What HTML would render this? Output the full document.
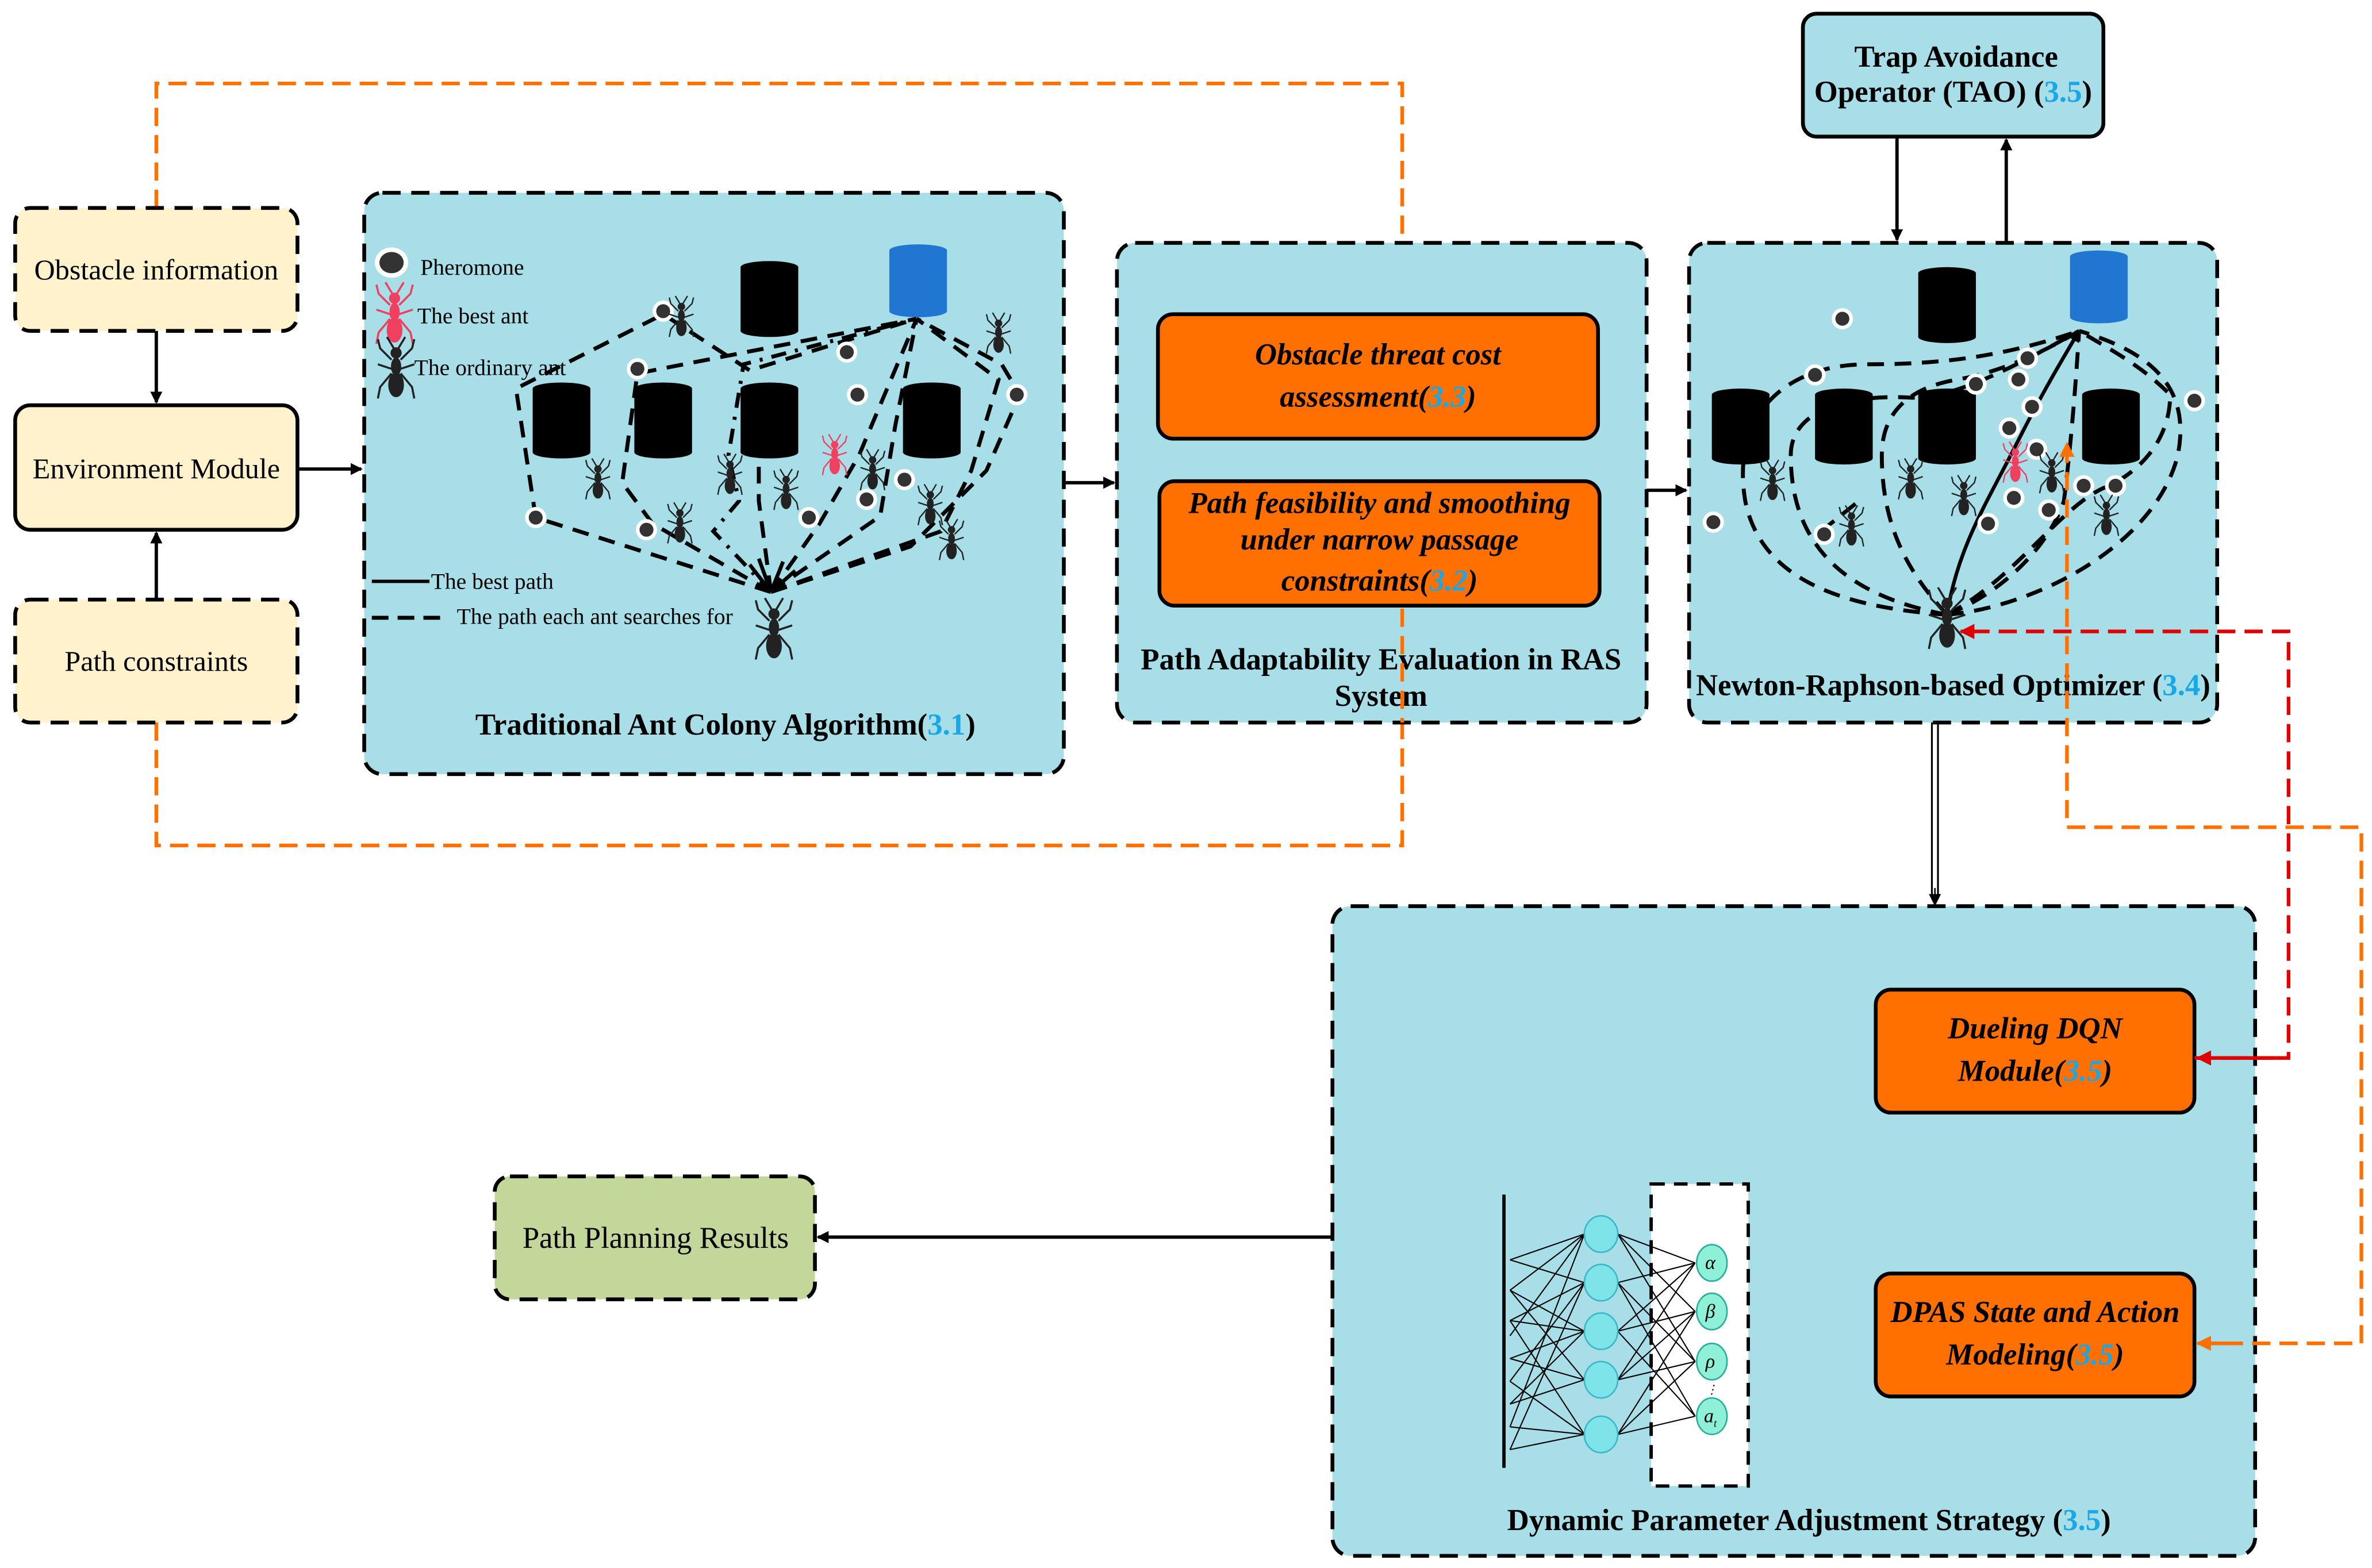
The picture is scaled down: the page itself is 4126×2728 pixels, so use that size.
<!DOCTYPE html>
<html><head><meta charset="utf-8"><style>html,body{margin:0;padding:0;background:#fff}svg{display:block}</style></head>
<body>
<svg xmlns="http://www.w3.org/2000/svg" width="4126" height="2728" viewBox="0 0 1563 1033" preserveAspectRatio="none" font-family="Liberation Serif, serif">
<defs>
<marker id="ab" markerWidth="8" markerHeight="8" refX="7" refY="4" orient="auto" markerUnits="userSpaceOnUse"><path d="M0,0 L8,4 L0,8 z" fill="#000"/></marker>
<marker id="ao" markerWidth="10" markerHeight="10" refX="9" refY="5" orient="auto" markerUnits="userSpaceOnUse"><path d="M0,0 L10,5 L0,10 z" fill="#FF7000"/></marker>
<marker id="ar" markerWidth="10" markerHeight="10" refX="9" refY="5" orient="auto" markerUnits="userSpaceOnUse"><path d="M0,0 L10,5 L0,10 z" fill="#E00000"/></marker>
<g id="ant" stroke="#222" stroke-width="0.9" fill="none">
<path d="M-2,-4 L-7,-9 L-8,-13 M2,-4 L7,-9 L8,-13 M-2,0 L-8,-2 M2,0 L8,-2 M-2,2 L-7,8 L-8,13 M2,2 L7,8 L8,13 M-1,-9 L-4,-14 M1,-9 L4,-14"/>
<ellipse cx="0" cy="-7" rx="2" ry="2" fill="#222"/><ellipse cx="0" cy="-1" rx="1.8" ry="3.5" fill="#222"/><ellipse cx="0" cy="7" rx="3" ry="5" fill="#222"/>
</g>
<g id="antr" stroke="#F04060" stroke-width="0.9" fill="none">
<path d="M-2,-4 L-7,-9 L-8,-13 M2,-4 L7,-9 L8,-13 M-2,0 L-8,-2 M2,0 L8,-2 M-2,2 L-7,8 L-8,13 M2,2 L7,8 L8,13 M-1,-9 L-4,-14 M1,-9 L4,-14"/>
<ellipse cx="0" cy="-7" rx="2" ry="2" fill="#F04060"/><ellipse cx="0" cy="-1" rx="1.8" ry="3.5" fill="#F04060"/><ellipse cx="0" cy="7" rx="3" ry="5" fill="#F04060"/>
</g>
<g id="dot"><circle r="7" fill="#fff"/><circle r="4.6" fill="#333"/></g>
<g id="cyl"><rect x="0" y="4" width="38" height="42" fill="#000"/><ellipse cx="19" cy="4" rx="19" ry="4" fill="#000"/><ellipse cx="19" cy="46" rx="19" ry="4" fill="#000"/></g>
<g id="cylb"><rect x="0" y="4" width="38" height="40" fill="#2176D2"/><ellipse cx="19" cy="4" rx="19" ry="4" fill="#2176D2"/><ellipse cx="19" cy="44" rx="19" ry="4" fill="#2176D2"/></g>
</defs>

<g fill="none" stroke="#FF7000" stroke-width="2.4" stroke-dasharray="12 6">
<path d="M103,137 L103,55 L924,55 L924,203" marker-end="url(#ao)"/>
<path d="M103,476 L103,557 L924,557 L924,401" marker-end="url(#ao)"/>
</g>

<rect x="10" y="137" width="186" height="81" rx="10" fill="#FFF2CC" stroke="#000" stroke-width="2.5" stroke-dasharray="12 7"/>
<text x="103" y="184" font-size="19" text-anchor="middle">Obstacle information</text>
<rect x="10" y="267" width="186" height="82" rx="10" fill="#FFF2CC" stroke="#000" stroke-width="2.5"/>
<text x="103" y="315" font-size="19" text-anchor="middle">Environment Module</text>
<rect x="10" y="395" width="186" height="81" rx="10" fill="#FFF2CC" stroke="#000" stroke-width="2.5" stroke-dasharray="12 7"/>
<text x="103" y="442" font-size="19" text-anchor="middle">Path constraints</text>
<g stroke="#000" stroke-width="2.2" fill="none">
<path d="M103,218 L103,265" marker-end="url(#ab)"/>
<path d="M103,395 L103,351" marker-end="url(#ab)"/>
<path d="M196,309 L238,309" marker-end="url(#ab)"/>
<path d="M701,318 L734,318" marker-end="url(#ab)"/>
<path d="M1085,323 L1111,323" marker-end="url(#ab)"/>
<path d="M1250,90 L1250,158" marker-end="url(#ab)"/>
<path d="M1322,160 L1322,92" marker-end="url(#ab)"/>
<path d="M878,815 L539,815" marker-end="url(#ab)"/>
<path d="M1236,881 L1154,881" marker-end="url(#ab)"/>
</g>
<path d="M1273,476 L1273,590 M1277,476 L1277,590" stroke="#000" stroke-width="1.2"/>
<path d="M1275,585 L1275,596" stroke="#000" stroke-width="1" marker-end="url(#ab)"/>

<rect x="240" y="127" width="461" height="383" rx="12" fill="#A8DEE8" stroke="#000" stroke-width="2.5" stroke-dasharray="12 7"/>
<use href="#cyl" x="488" y="172"/><use href="#cyl" x="351" y="252"/><use href="#cyl" x="418" y="252"/><use href="#cyl" x="488" y="252"/><use href="#cyl" x="595" y="252"/>
<use href="#cylb" x="586" y="161"/>
<g fill="none" stroke="#000" stroke-width="2.6" stroke-dasharray="11 7">
<path d="M508,390 L353,341 L340,256 L437,207 L494,244 L604,210"/>
<path d="M508,390 L430,345 L410,318 L420,246 L604,210"/>
<path d="M508,390 L470,350 L487,330 L480,300 L490,240 L604,210" stroke-dasharray="10 6 2 6"/>
<path d="M508,390 L500,330 L500,262"/>
<path d="M508,390 L540,345 L566,300 L604,210"/>
<path d="M508,390 L580,340 L590,280 L604,210"/>
<path d="M508,390 L600,360 L650,310 L672,260 L660,240 L604,210"/>
<path d="M508,390 L620,350 L640,310 L658,250 L604,210"/>
</g>
<g stroke="#000" stroke-width="2.5"><path d="M508,390 L494,372 M508,390 L500,368 M508,390 L516,370 M508,390 L524,376"/></g>
<use href="#dot" x="437" y="205"/><use href="#dot" x="420" y="243"/><use href="#dot" x="558" y="232"/><use href="#dot" x="565" y="260"/><use href="#dot" x="670" y="260"/><use href="#dot" x="596" y="316"/><use href="#dot" x="571" y="329"/><use href="#dot" x="533" y="341"/><use href="#dot" x="426" y="349"/><use href="#dot" x="353" y="341"/>
<use href="#ant" x="449" y="209"/><use href="#ant" x="658" y="220"/><use href="#ant" x="394" y="316"/><use href="#ant" x="448" y="345"/><use href="#ant" x="481" y="313"/><use href="#ant" x="518" y="323"/><use href="#ant" x="575" y="310"/><use href="#antr" x="550" y="300"/><use href="#ant" x="613" y="333"/><use href="#ant" x="627" y="356"/>
<use href="#ant" x="510" y="415" transform="translate(-255,-207.5) scale(1.5)"/>
<ellipse cx="258" cy="173" rx="11" ry="10" fill="#fff"/><ellipse cx="258" cy="173" rx="8" ry="7" fill="#333"/>
<text x="277" y="181" font-size="15">Pheromone</text>
<use href="#antr" x="260" y="207" transform="translate(-130,-103.5) scale(1.5)"/>
<text x="275" y="213" font-size="15">The best ant</text>
<use href="#ant" x="261" y="243" transform="translate(-130.5,-121.5) scale(1.5)"/>
<text x="273" y="247" font-size="15">The ordinary ant</text>
<path d="M245,383 L283,383" stroke="#000" stroke-width="2.2"/>
<text x="284" y="388" font-size="15">The best path</text>
<path d="M245,407 L296,407" stroke="#000" stroke-width="2.6" stroke-dasharray="11 6"/>
<text x="301" y="411" font-size="15">The path each ant searches for</text>
<text x="478" y="484" font-size="20" font-weight="bold" text-anchor="middle">Traditional Ant Colony Algorithm(<tspan fill="#1AA7E8">3.1</tspan>)</text>

<rect x="736" y="160" width="349" height="316" rx="12" fill="#A8DEE8" stroke="#000" stroke-width="2.5" stroke-dasharray="12 7"/>
<rect x="763" y="207" width="290" height="82" rx="10" fill="#FF7000" stroke="#000" stroke-width="2.5"/>
<text x="908" y="240" font-size="20" font-weight="bold" font-style="italic" text-anchor="middle">Obstacle threat cost</text>
<text x="908" y="268" font-size="20" font-weight="bold" font-style="italic" text-anchor="middle">assessment(<tspan fill="#1AA7E8">3.3</tspan>)</text>
<rect x="764" y="317" width="290" height="82" rx="10" fill="#FF7000" stroke="#000" stroke-width="2.5"/>
<text x="909" y="338" font-size="20" font-weight="bold" font-style="italic" text-anchor="middle">Path feasibility and smoothing</text>
<text x="909" y="362" font-size="20" font-weight="bold" font-style="italic" text-anchor="middle">under narrow passage</text>
<text x="909" y="389" font-size="20" font-weight="bold" font-style="italic" text-anchor="middle">constraints(<tspan fill="#1AA7E8">3.2</tspan>)</text>
<text x="910" y="441" font-size="20" font-weight="bold" text-anchor="middle">Path Adaptability Evaluation in RAS</text>
<text x="910" y="465" font-size="20" font-weight="bold" text-anchor="middle">System</text>
<path d="M924,401 L924,476" stroke="#FF7000" stroke-width="2.4" stroke-dasharray="12 6"/>

<rect x="1188" y="9" width="198" height="81" rx="9" fill="#A8DEE8" stroke="#000" stroke-width="2.5"/>
<text x="1289" y="44" font-size="20" font-weight="bold" text-anchor="middle">Trap Avoidance</text>
<text x="1287" y="67" font-size="20" font-weight="bold" text-anchor="middle">Operator (TAO) (<tspan fill="#1AA7E8">3.5</tspan>)</text>

<rect x="1113" y="160" width="348" height="316" rx="12" fill="#A8DEE8" stroke="#000" stroke-width="2.5" stroke-dasharray="12 7"/>
<use href="#cyl" x="1264" y="176"/><use href="#cyl" x="1128" y="256"/><use href="#cyl" x="1196" y="256"/><use href="#cyl" x="1264" y="256"/><use href="#cyl" x="1372" y="256"/>
<use href="#cylb" x="1364" y="165"/>
<g fill="none" stroke="#000" stroke-width="2.6" stroke-dasharray="11 7">
<path d="M1283,405 C1210,400 1160,380 1150,330 C1140,270 1180,240 1230,240 C1280,240 1320,235 1370,218"/>
<path d="M1283,405 C1230,395 1180,370 1180,300 C1180,265 1230,260 1260,262 C1290,262 1330,240 1370,218"/>
<path d="M1283,405 C1260,380 1240,350 1240,300 C1240,270 1260,255 1290,250 C1320,245 1350,230 1370,218"/>
<path d="M1283,405 C1320,390 1350,360 1360,330 C1365,290 1368,250 1370,218"/>
<path d="M1283,405 C1340,400 1420,360 1435,300 C1445,250 1410,230 1370,218"/>
<path d="M1283,405 C1330,380 1360,330 1390,320 C1410,310 1430,290 1430,260 C1410,240 1390,230 1370,218"/>
<path d="M1200,350 L1225,330"/>
</g>
<path d="M1283,405 C1290,360 1310,330 1330,290 C1345,260 1360,235 1370,218" fill="none" stroke="#000" stroke-width="2.4" marker-end="url(#ab)"/>
<use href="#dot" x="1214" y="210"/><use href="#dot" x="1196" y="247"/><use href="#dot" x="1302" y="253"/><use href="#dot" x="1330" y="250"/><use href="#dot" x="1336" y="236"/><use href="#dot" x="1324" y="282"/><use href="#dot" x="1342" y="296"/><use href="#dot" x="1310" y="345"/><use href="#dot" x="1327" y="328"/><use href="#dot" x="1339" y="268"/><use href="#dot" x="1373" y="320"/><use href="#dot" x="1394" y="320"/><use href="#dot" x="1446" y="264"/><use href="#dot" x="1129" y="344"/><use href="#dot" x="1202" y="352"/><use href="#dot" x="1350" y="336"/>
<use href="#ant" x="1168" y="317"/><use href="#ant" x="1220" y="347"/><use href="#ant" x="1259" y="316"/><use href="#ant" x="1294" y="327"/><use href="#ant" x="1352" y="312"/><use href="#antr" x="1328" y="305"/><use href="#ant" x="1388" y="340"/>
<use href="#ant" x="1283" y="408" transform="translate(-641.5,-204) scale(1.5)"/>
<text x="1287" y="458" font-size="20" font-weight="bold" text-anchor="middle">Newton-Raphson-based Optimizer (<tspan fill="#1AA7E8">3.4</tspan>)</text>

<rect x="878" y="597" width="608" height="428" rx="12" fill="#A8DEE8" stroke="#000" stroke-width="2.5" stroke-dasharray="12 7"/>
<rect x="1236" y="652" width="210" height="81" rx="10" fill="#FF7000" stroke="#000" stroke-width="2.5"/>
<text x="1341" y="684" font-size="20" font-weight="bold" font-style="italic" text-anchor="middle">Dueling DQN</text>
<text x="1341" y="712" font-size="20" font-weight="bold" font-style="italic" text-anchor="middle">Module(<tspan fill="#1AA7E8">3.5</tspan>)</text>
<rect x="1236" y="839" width="210" height="81" rx="10" fill="#FF7000" stroke="#000" stroke-width="2.5"/>
<text x="1341" y="871" font-size="20" font-weight="bold" font-style="italic" text-anchor="middle">DPAS State and Action</text>
<text x="1341" y="899" font-size="20" font-weight="bold" font-style="italic" text-anchor="middle">Modeling(<tspan fill="#1AA7E8">3.5</tspan>)</text>
<text x="1192" y="1008" font-size="20" font-weight="bold" text-anchor="middle">Dynamic Parameter Adjustment Strategy (<tspan fill="#1AA7E8">3.5</tspan>)</text>

<rect x="1088" y="780" width="64" height="199" fill="#fff" stroke="#000" stroke-width="2.2" stroke-dasharray="9 6"/>
<path d="M991,787 L991,967" stroke="#000" stroke-width="2.2"/>
<g stroke="#000" stroke-width="0.8" fill="none">
<path d="M995,830 L1044,813 M995,830 L1044,845 M995,850 L1044,813 M995,850 L1044,877 M995,850 L1044,909 M995,870 L1044,845 M995,870 L1044,877 M995,870 L1044,945 M995,880 L1044,813 M995,895 L1044,877 M995,895 L1044,909 M995,910 L1044,845 M995,910 L1044,945 M995,925 L1044,877 M995,925 L1044,909 M995,940 L1044,813 M995,940 L1044,945 M995,955 L1044,845 M995,955 L1044,945"/>
<path d="M1066,813 L1117,832 M1066,813 L1117,864 M1066,813 L1117,897 M1066,845 L1117,832 M1066,845 L1117,897 M1066,845 L1117,933 M1066,877 L1117,832 M1066,877 L1117,864 M1066,877 L1117,933 M1066,909 L1117,864 M1066,909 L1117,897 M1066,909 L1117,832 M1066,945 L1117,864 M1066,945 L1117,933 M1066,945 L1117,897"/>
</g>
<g fill="#7FE3EA" stroke="#3BB8C8" stroke-width="1"><ellipse cx="1055" cy="813" rx="11" ry="12"/><ellipse cx="1055" cy="845" rx="11" ry="12"/><ellipse cx="1055" cy="877" rx="11" ry="12"/><ellipse cx="1055" cy="909" rx="11" ry="12"/><ellipse cx="1055" cy="945" rx="11" ry="12"/></g>
<g fill="#8FF0D8" stroke="#2AAE9A" stroke-width="1"><ellipse cx="1128" cy="832" rx="10" ry="12"/><ellipse cx="1128" cy="864" rx="10" ry="12"/><ellipse cx="1128" cy="897" rx="10" ry="12"/><ellipse cx="1128" cy="933" rx="10" ry="12"/></g>
<g font-size="13" font-style="italic" text-anchor="middle"><text x="1127" y="836">α</text><text x="1127" y="868">β</text><text x="1127" y="901">ρ</text><text x="1127" y="937">a<tspan font-size="7" dy="3">t</tspan></text><text x="1128" y="918" font-size="8">⋮</text></g>

<rect x="326" y="775" width="211" height="81" rx="10" fill="#C4D79B" stroke="#000" stroke-width="2.5" stroke-dasharray="12 7"/>
<text x="432" y="822" font-size="20" text-anchor="middle">Path Planning Results</text>

<path d="M1446,697 L1508,697 L1508,416 L1292,416" fill="none" stroke="#E00000" stroke-width="2.4" stroke-dasharray="12 6" marker-end="url(#ar)"/>
<path d="M1500,697 L1448,697" stroke="#E00000" stroke-width="2.4" marker-end="url(#ar)"/>
<path d="M1448,885 L1556,885 L1556,545 L1362,545 L1362,292" fill="none" stroke="#FF7000" stroke-width="2.4" stroke-dasharray="12 6" marker-end="url(#ao)"/>
<path d="M1470,885 L1448,885" stroke="#FF7000" stroke-width="2.4" marker-end="url(#ao)"/>
</svg>
</body></html>
